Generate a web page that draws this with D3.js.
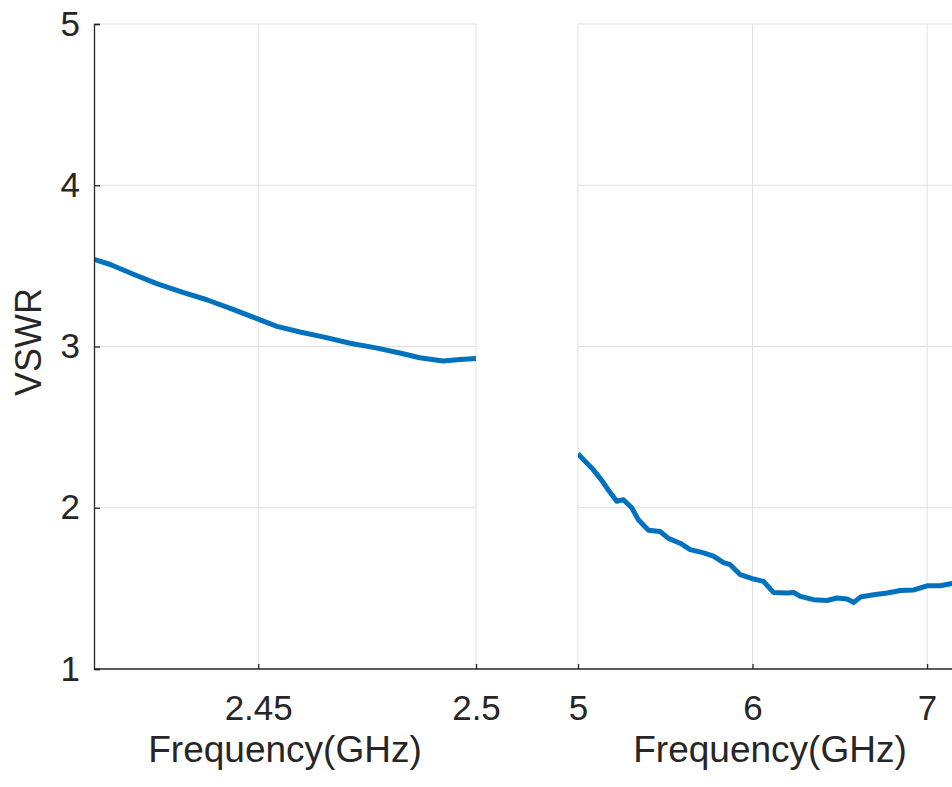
<!DOCTYPE html>
<html>
<head>
<meta charset="utf-8">
<script src="https://cdn.jsdelivr.net/npm/d3@7"></script>
<style>
  body { margin: 0; background: #fff; }
  svg { display: block; font-family: "Liberation Sans", Arial, sans-serif; }
</style>
</head>
<body>
<div id="visualization"></div>
<script>
// Low band (GHz, VSWR)
const lowFreq = [2.4123, 2.4159, 2.4212, 2.4267, 2.4327, 2.4382, 2.4442, 2.45, 2.4543, 2.4596,
  2.4649, 2.4711, 2.4773, 2.4825, 2.4871, 2.4924, 2.4963, 2.5];
const lowVswr = [3.54, 3.51, 3.45, 3.39, 3.335, 3.29, 3.23, 3.17, 3.125, 3.09,
  3.06, 3.02, 2.99, 2.96, 2.93, 2.91, 2.92, 2.925];

// High band (GHz, VSWR)
const highFreq = [5.0, 5.03, 5.088, 5.136, 5.174, 5.222, 5.26, 5.308, 5.346, 5.404,
  5.47, 5.518, 5.585, 5.643, 5.72, 5.776, 5.834, 5.872, 5.93, 6.006,
  6.063, 6.12, 6.197, 6.235, 6.274, 6.35, 6.427, 6.484, 6.542, 6.58,
  6.618, 6.694, 6.771, 6.847, 6.924, 7.0, 7.077, 7.134, 7.2];
const highVswr = [2.335, 2.30, 2.235, 2.17, 2.11, 2.04, 2.05, 2.0, 1.925, 1.86,
  1.853, 1.81, 1.78, 1.74, 1.72, 1.70, 1.66, 1.647, 1.585, 1.558,
  1.543, 1.475, 1.471, 1.475, 1.45, 1.43, 1.425, 1.44, 1.434, 1.413,
  1.446, 1.46, 1.471, 1.487, 1.49, 1.516, 1.516, 1.529, 1.535];

const yTicks = [1, 2, 3, 4, 5];
const lowTicks = [2.45, 2.5];
const highTicks = [5, 6, 7];

const width = 952;
const height = 787;
const plotTop = 24, plotBottom = 669;
const ink = "#262626";
const gridColor = "#dfdfdf";
const lineColor = "#0072bd";

const svg = d3
  .select("#visualization")
  .append("svg")
  .attr("width", width)
  .attr("height", height);

const y = d3.scaleLinear().domain([1, 5]).range([plotBottom, plotTop]);

const panels = [
  { freq: lowFreq, vswr: lowVswr, ticks: lowTicks,
    x: d3.scaleLinear().domain([2.4123, 2.5]).range([94, 476]) },
  { freq: highFreq, vswr: highVswr, ticks: highTicks,
    x: d3.scaleLinear().domain([5, 7.2]).range([578, 962]) }
];

panels.forEach((p, i) => {
  const [x0, x1] = p.x.range();
  const g = svg.append("g");

  // Grid
  g.selectAll(".hgrid")
    .data(yTicks.filter((d) => d > 1))
    .enter()
    .append("line")
    .attr("x1", x0)
    .attr("x2", x1)
    .attr("y1", (d) => y(d))
    .attr("y2", (d) => y(d))
    .attr("stroke", gridColor);

  g.selectAll(".vgrid")
    .data(p.ticks)
    .enter()
    .append("line")
    .attr("x1", (d) => p.x(d))
    .attr("x2", (d) => p.x(d))
    .attr("y1", plotTop)
    .attr("y2", plotBottom)
    .attr("stroke", gridColor);

  // Curve
  const clipId = "clip" + i;
  svg.append("clipPath").attr("id", clipId)
    .append("rect")
    .attr("x", x0).attr("y", plotTop)
    .attr("width", x1 - x0).attr("height", plotBottom - plotTop);

  g.append("path")
    .datum(p.freq.map((f, k) => [f, p.vswr[k]]))
    .attr("clip-path", `url(#${clipId})`)
    .attr("fill", "none")
    .attr("stroke", lineColor)
    .attr("stroke-width", 5)
    .attr("stroke-linejoin", "round")
    .attr("d", d3.line().x((d) => p.x(d[0])).y((d) => y(d[1])));

  // X axis
  const xAxis = g
    .append("g")
    .attr("transform", `translate(0,${plotBottom})`)
    .call(d3.axisBottom(p.x).tickValues(p.ticks).tickFormat(d3.format("~g")).tickSize(-5).tickPadding(26));
  xAxis.select(".domain").remove();
  xAxis.selectAll("line").attr("stroke", ink).attr("stroke-width", 1.3);
  xAxis.selectAll("text")
    .attr("fill", ink)
    .attr("font-size", "35px")
    .attr("font-family", "Liberation Sans, Arial, sans-serif");

  // X label
  g.append("text")
    .attr("x", (x0 + x1) / 2)
    .attr("y", 762)
    .attr("text-anchor", "middle")
    .attr("fill", ink)
    .attr("font-size", "37px")
    .text("Frequency(GHz)");
});

// bottom axis line runs across both panels
svg
  .append("line")
  .attr("x1", 94)
  .attr("x2", width)
  .attr("y1", plotBottom)
  .attr("y2", plotBottom)
  .attr("stroke", ink)
  .attr("stroke-width", 1.3);

// Y axis on the left panel
const yAxis = svg
  .append("g")
  .attr("transform", `translate(94,0)`)
  .call(d3.axisLeft(y).tickValues(yTicks).tickFormat(d3.format("d")).tickSize(-6).tickPadding(14));
yAxis.select(".domain").attr("stroke", ink).attr("stroke-width", 1.3);
yAxis.selectAll("line").attr("stroke", ink).attr("stroke-width", 1.3);
yAxis.selectAll("text")
  .attr("fill", ink)
  .attr("font-size", "35px")
  .attr("font-family", "Liberation Sans, Arial, sans-serif");

svg
  .append("text")
  .attr("transform", `translate(41,342) rotate(-90)`)
  .attr("text-anchor", "middle")
  .attr("fill", ink)
  .attr("font-size", "36px")
  .text("VSWR");
</script>
</body>
</html>
